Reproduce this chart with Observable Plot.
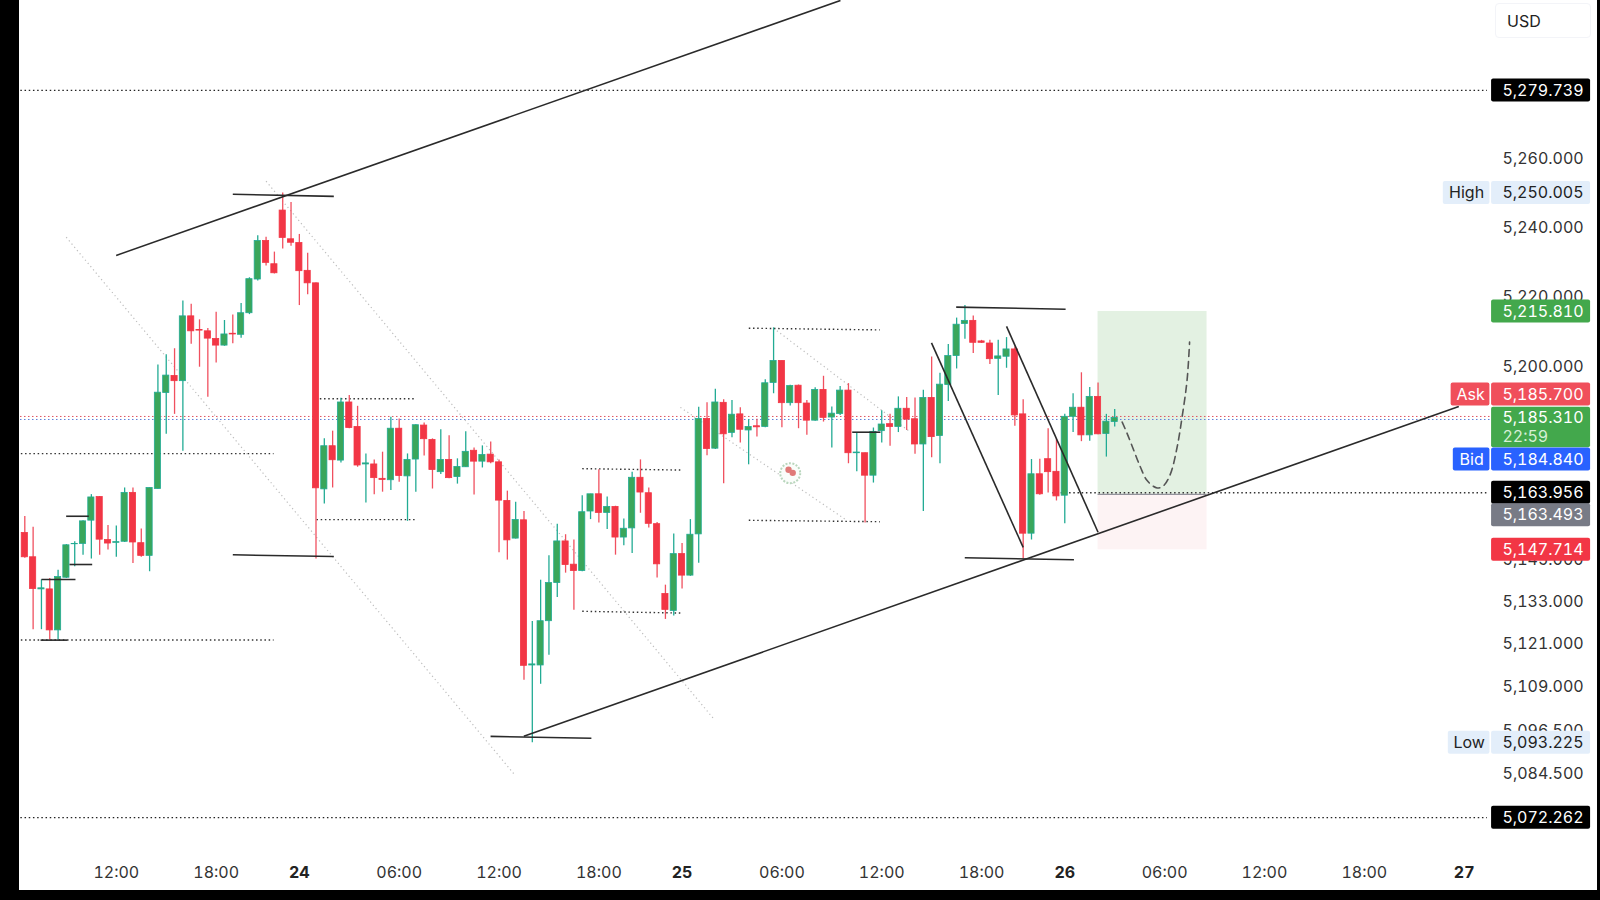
<!DOCTYPE html>
<html>
<head>
<meta charset="utf-8">
<script src="https://cdn.jsdelivr.net/npm/d3@7"></script>
<script src="https://cdn.jsdelivr.net/npm/@observablehq/plot@0.6"></script>
<style>
html,body{margin:0;padding:0;background:#fff;width:1600px;height:900px;overflow:hidden;font-family:Inter,"Liberation Sans",sans-serif}
#chart{position:absolute;left:0;top:0}
.f{position:absolute;background:#000}
#usd{position:absolute;left:1495px;top:3px;width:96px;height:35px;box-sizing:border-box;border:1px solid #f3f4f8;border-radius:4px;background:#fff;color:#222;font-size:16px;line-height:35px;padding-left:11px}
</style>
</head>
<body>
<div id="chart"></div>
<div class="f" style="left:0;top:0;width:19px;height:900px"></div>
<div class="f" style="left:1597px;top:0;width:3px;height:900px"></div>
<div class="f" style="left:0;top:890px;width:1600px;height:10px"></div>
<div id="usd">USD</div>
<script>
const open=[5152.5,5145.6,5136.5,5136.5,5124.9,5139.8,5149.3,5149.4,5156.0,5162.7,5150.5,5149.7,5150.0,5163.9,5149.6,5146.0,5165.0,5192.4,5197.3,5195.8,5214.4,5210.5,5210.1,5207.9,5206.0,5209.4,5209.1,5215.3,5225.0,5236.1,5229.4,5244.9,5236.6,5235.5,5227.5,5223.9,5164.9,5177.2,5173.1,5189.7,5182.7,5172.0,5172.0,5167.9,5167.5,5182.2,5168.6,5173.4,5183.1,5179.0,5169.8,5173.3,5168.4,5171.2,5175.9,5172.8,5174.8,5172.6,5161.6,5150.9,5156.1,5115.0,5115.0,5127.5,5138.3,5150.1,5143.5,5141.7,5158.6,5163.5,5158.2,5159.9,5151.2,5153.8,5168.2,5163.8,5155.0,5135.2,5130.4,5146.5,5140.4,5152.1,5185.0,5176.5,5189.6,5181.0,5186.3,5181.7,5182.9,5182.7,5195.3,5201.6,5189.5,5194.5,5189.4,5184.5,5193.3,5185.4,5186.4,5193.1,5175.2,5175.2,5168.8,5181.5,5183.5,5182.7,5187.9,5184.9,5177.7,5191.0,5180.1,5194.7,5203.0,5212.2,5213.1,5207.2,5206.6,5202.2,5202.8,5204.9,5186.3,5152.3,5169.2,5173.5,5169.9,5163.1,5185.6,5188.2,5180.3,5191.3,5180.7,5184.1];
const high=[5157.2,5154.1,5139.2,5139.6,5141.9,5149.2,5150.0,5156.0,5163.4,5162.9,5154.6,5154.5,5165.3,5165.3,5153.6,5165.3,5200.4,5203.4,5205.1,5218.8,5217.9,5213.4,5210.9,5215.6,5213.2,5214.8,5218.1,5225.5,5237.6,5237.2,5232.9,5250.005,5247.2,5238.0,5232.6,5224.0,5179.3,5181.5,5190.9,5191.7,5188.6,5175.0,5173.3,5175.5,5185.5,5185.0,5175.0,5183.3,5183.8,5179.3,5181.9,5180.2,5173.6,5181.3,5176.7,5177.3,5178.4,5173.3,5164.4,5161.2,5158.6,5127.4,5139.1,5146.0,5155.0,5152.0,5150.5,5163.1,5163.5,5170.5,5162.7,5160.1,5156.5,5169.8,5173.3,5165.3,5155.5,5137.7,5152.2,5149.5,5156.3,5188.3,5189.6,5193.5,5190.5,5190.3,5188.2,5184.8,5184.9,5196.2,5211.1,5201.6,5194.6,5194.7,5190.3,5193.9,5197.2,5188.4,5194.3,5195.1,5181.0,5175.3,5182.4,5187.3,5186.3,5191.3,5191.1,5191.0,5193.2,5202.7,5198.1,5206.3,5213.9,5217.5,5214.5,5207.5,5207.5,5207.5,5208.3,5205.6,5190.5,5173.4,5173.5,5182.2,5179.2,5186.3,5192.2,5198.2,5194.0,5195.3,5186.3,5187.7];
const low=[5145.3,5125.1,5125.1,5122.2,5122.2,5139.6,5142.9,5146.2,5145.1,5146.2,5147.7,5145.6,5149.8,5143.8,5145.6,5141.5,5164.9,5180.6,5186.3,5175.8,5206.4,5199.8,5191.2,5201.0,5205.8,5206.5,5208.1,5214.9,5224.6,5228.9,5226.6,5233.8,5234.6,5217.5,5220.6,5145.1,5160.7,5165.3,5172.4,5182.2,5171.2,5161.0,5163.4,5164.1,5164.6,5166.9,5155.8,5164.1,5174.4,5165.0,5169.1,5167.9,5166.4,5171.1,5163.3,5171.0,5172.2,5146.9,5144.8,5150.8,5110.8,5093.225,5109.7,5117.9,5134.2,5141.1,5130.6,5141.5,5156.3,5155.3,5153.5,5146.2,5148.9,5146.7,5158.1,5153.9,5139.7,5128.0,5129.0,5136.6,5140.2,5143.9,5174.5,5176.3,5166.5,5179.6,5178.1,5171.9,5179.8,5182.5,5192.2,5182.5,5188.7,5182.2,5180.3,5184.3,5184.1,5176.7,5186.0,5172.2,5169.9,5155.3,5166.7,5178.1,5177.2,5181.1,5181.7,5174.9,5158.6,5173.9,5172.2,5190.0,5199.3,5207.8,5203.7,5206.6,5200.6,5191.7,5199.5,5182.9,5145.1,5150.5,5163.2,5163.9,5161.6,5155.1,5181.1,5178.5,5178.6,5180.5,5174.1,5182.7];
const close=[5145.6,5136.6,5136.8,5124.9,5140.0,5149.0,5149.4,5155.8,5162.6,5150.6,5149.5,5149.9,5163.9,5149.8,5146.0,5165.3,5192.5,5197.4,5195.8,5214.4,5210.1,5210.3,5208.0,5206.0,5209.2,5209.2,5215.3,5225.1,5236.1,5229.8,5226.8,5237.0,5235.6,5227.4,5223.9,5165.2,5177.2,5173.2,5189.7,5182.4,5171.7,5172.3,5168.1,5167.6,5182.2,5168.7,5173.3,5183.2,5179.2,5170.4,5173.3,5168.1,5171.3,5175.6,5172.8,5174.7,5172.6,5161.7,5150.4,5156.2,5114.9,5115.3,5127.5,5138.3,5150.1,5143.4,5141.7,5158.4,5163.5,5158.2,5159.9,5151.2,5153.7,5168.2,5164.0,5155.1,5143.6,5130.7,5146.5,5140.4,5152.0,5185.0,5176.4,5189.7,5180.6,5186.2,5181.9,5182.7,5182.6,5195.2,5201.6,5189.5,5194.4,5189.5,5184.5,5193.3,5185.3,5186.5,5193.1,5175.2,5175.4,5168.8,5181.3,5183.4,5182.7,5187.9,5184.8,5177.7,5191.0,5179.8,5194.8,5203.0,5212.0,5213.1,5206.8,5206.8,5202.1,5202.9,5204.9,5186.0,5152.3,5169.2,5163.5,5169.8,5162.9,5185.6,5188.2,5180.3,5191.3,5180.6,5184.2,5185.31];

const hourTicks=[11,23,45,57,69,91,103,115,137,149,161];
const hourLabels=["12:00","18:00","06:00","12:00","18:00","06:00","12:00","18:00","06:00","12:00","18:00"];
const dayTicks=[33,79,125,173];
const dayLabels=["24","25","26","27"];
const priceTicks=[5260,5240,5220,5200,5145,5133,5121,5109,5096.5,5084.5];

// drawn tools, as [bar index, price, bar index, price]
const solidTools=[[10.98,5231.95,98.04,5306],[25,5249.6,37.14,5249],[25,5146.3,37.14,5145.8],[4.97,5157.25,7.69,5157.25],[5.37,5143.55,8.1,5143.55],[2,5139.3,6.09,5139.3],[1.89,5122.15,5.1,5122.15],[99.45,5181.2,102.85,5181.2],[111.95,5217.05,125.1,5216.45],[112.98,5145.45,126.1,5144.9],[59.98,5095.07,172.36,5188.56],[108.98,5206.8,120,5148.4],[118,5211.5,129,5152.7],[55.98,5095.05,68.1,5094.5]];
const dottedTools=[[-3,5122.2,29.9,5122.2],[-3,5175.1,29.9,5175.1],[35.46,5190.75,46.96,5190.75],[35.06,5156.3,46.96,5156.3],[67,5170.8,78.9,5170.4],[67,5130.3,78.9,5129.8],[87.02,5211,102.76,5210.5],[87.02,5156.1,102.76,5155.7],[123.5,5163.956,175.8,5163.956]];
const faintTools=[[4.98,5237.2,58.98,5084],[29,5253.4,82.9,5099.7],[78.8,5188.3,98.85,5156],[90,5211,106.45,5181.2]];
const curveIndex=[131.9,132.5,133.3,134.1,134.9,136.1,136.9,137.7,138.5,139.1,139.7,140];
const curvePrice=[5184.1,5180.8,5176,5171.2,5167.4,5165.3,5166,5169.3,5176.9,5185.5,5196.1,5207];
const priceLines=[5279.739,5072.262];

const tags=[
 {text:"5,279.739",price:5279.739,dy:0,fill:"#000",color:"#fff"},
 {text:"5,250.005",price:5250.005,dy:0,fill:"#e3eefa",color:"#222",side:"High"},
 {text:"5,215.810",price:5215.81,dy:0,fill:"#43a84c",color:"#fff"},
 {text:"5,163.956",price:5163.956,dy:0,fill:"#000",color:"#fff"},
 {text:"5,163.493",price:5163.493,dy:21,fill:"#787b86",color:"#fff"},
 {text:"5,147.714",price:5147.714,dy:0,fill:"#f23645",color:"#fff"},
 {text:"5,093.225",price:5093.225,dy:0,fill:"#e3eefa",color:"#222",side:"Low"},
 {text:"5,072.262",price:5072.262,dy:0,fill:"#000",color:"#fff"},
 {text:"5,184.840",price:5184.84,dy:40,fill:"#2962ff",color:"#fff",side:"Bid"},
 {text:"5,185.700",price:5185.7,dy:-22,fill:"#f04f5b",color:"#fff",side:"Ask"}
];
const tagLeft=176.3, tagRight=188.2, tagText=177.6, sideRight=176.1;
const sideEdges={High:170.5,Low:171.1,Ask:171.44,Bid:171.7};

const candles=open.map((o,i)=>({i,open:o,high:high[i],low:low[i],close:close[i],up:close[i]>=o}));
const seg=a=>a.map(([x1,y1,x2,y2])=>({x1,y1,x2,y2}));
const curve=curveIndex.map((x,i)=>({x,y:curvePrice[i]}));
const RED="#f23645",GREEN="#3aa65b",TEAL="#22ab94",WRED="#f0505f";
const textOpts={fontVariant:"tabular-nums"};

const tagMarks=tags.flatMap(t=>{
  const m=[Plot.rect([t],{x1:tagLeft,x2:tagRight,y1:t.price,y2:t.price,dy:t.dy,insetTop:-11.5,insetBottom:-11.5,fill:t.fill,rx:2}),
    Plot.text([t],{...textOpts,x:tagText,y:t.price,dy:t.dy,text:"text",fill:t.color,textAnchor:"start"})];
  if(t.side){
    const e=sideEdges[t.side];
    m.push(Plot.rect([t],{x1:e,x2:sideRight,y1:t.price,y2:t.price,dy:t.dy,insetTop:-11.5,insetBottom:-11.5,fill:t.fill,rx:2}),
      Plot.text([t],{x:(e+sideRight)/2,y:t.price,dy:t.dy,text:d=>d.side,fill:t.color,textAnchor:"middle"}));
  }
  return m;
});

const chart=Plot.plot({
  width:1600,height:900,marginLeft:0,marginTop:0,marginBottom:40,marginRight:110,
  style:{fontFamily:"Inter, 'Liberation Sans', sans-serif",fontSize:"16px",background:"#fff"},
  x:{type:"linear",domain:[-2.921,176.17]},
  y:{type:"log",domain:[5060.3,5305.99]},
  marks:[
    Plot.rect([{}],{x1:129,x2:142.1,y1:5163.493,y2:5215.81,fill:"#e3f1e2"}),
    Plot.rect([{}],{x1:129,x2:142.1,y1:5147.714,y2:5163.493,fill:"#fdf3f4"}),
    Plot.ruleY([5163.493],{x1:129,x2:142.1,stroke:"#787b86",strokeWidth:1}),
    Plot.link(seg(faintTools),{x1:"x1",y1:"y1",x2:"x2",y2:"y2",stroke:"#bdbdbd",strokeWidth:1.2,strokeDasharray:"1.2 3"}),
    Plot.ruleY([5185.7],{stroke:"#e0525e",strokeWidth:1,strokeDasharray:"1.5 2.5"}),
    Plot.ruleY([5184.84],{stroke:"#5b7fd8",strokeWidth:1,strokeDasharray:"1.5 2.5"}),
    Plot.ruleY(priceLines,{x2:175.8,x1:-3,stroke:"#222",strokeWidth:1.3,strokeDasharray:"1.5 2.7"}),
    Plot.link(seg(dottedTools),{x1:"x1",y1:"y1",x2:"x2",y2:"y2",stroke:"#333",strokeWidth:1.4,strokeDasharray:"1.5 2.7"}),
    Plot.ruleX(candles,{x:"i",y1:"low",y2:"high",stroke:d=>d.up?TEAL:WRED,strokeWidth:1.3}),
    Plot.rect(candles,{x1:d=>d.i-0.37,x2:d=>d.i+0.37,y1:"open",y2:"close",fill:d=>d.up?GREEN:RED,stroke:d=>d.up?TEAL:RED,strokeWidth:0.8}),
    Plot.link(seg(solidTools),{x1:"x1",y1:"y1",x2:"x2",y2:"y2",stroke:"#2a2a2a",strokeWidth:1.6}),
    Plot.line(curve,{x:"x",y:"y",curve:"catmull-rom",stroke:"#555",strokeWidth:1.6,strokeDasharray:"7 5"}),
    Plot.dot([{x:92,y:5169.5}],{x:"x",y:"y",r:10,stroke:"#b9d6bd",strokeWidth:2,strokeDasharray:"2 1.5",fill:"#fafdfa"}),
    Plot.dot([{x:91.8,y:5170.5},{x:92.3,y:5169.6}],{x:"x",y:"y",r:3.2,fill:"#e07a78"}),
    Plot.axisX(hourTicks,{anchor:"bottom",tickSize:0,tickPadding:6,label:null,fill:"#333",tickFormat:d=>hourLabels[hourTicks.indexOf(d)]}),
    Plot.axisX(dayTicks,{anchor:"bottom",tickSize:0,tickPadding:6,label:null,fill:"#222",fontWeight:"bold",tickFormat:d=>dayLabels[dayTicks.indexOf(d)]}),
    Plot.axisY(priceTicks,{anchor:"right",tickSize:0,tickPadding:12,label:null,fill:"#333",tickFormat:d3.format(",.3f")}),
    Plot.rect([{}],{x1:tagLeft,x2:tagRight,y1:5185.31,y2:5185.31,insetTop:-10.5,insetBottom:-30,fill:"#43a84c",rx:2}),
    Plot.text(["5,185.310"],{...textOpts,x:tagText,y:5185.31,text:d=>d,fill:"#fff",textAnchor:"start"}),
    Plot.text(["22:59"],{...textOpts,x:tagText,y:5185.31,dy:19,text:d=>d,fill:"#d6efd6",textAnchor:"start"}),
    ...tagMarks
  ]
});
document.getElementById("chart").append(chart);
</script>
</body>
</html>
